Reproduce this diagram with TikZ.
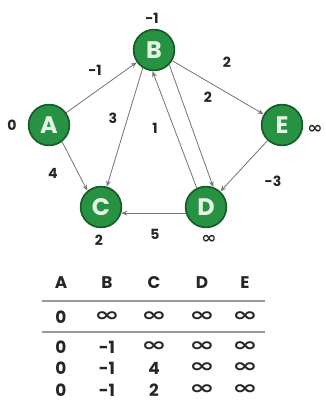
\documentclass[tikz,border=0pt]{standalone}
\usepackage{fontspec}
\setmainfont{Poppins}
\newfontfamily\symfont{DejaVu Sans}
\usepackage{graphicx}
\usepackage{tikz}
\usetikzlibrary{arrows.meta}
\definecolor{vfill}{RGB}{38,146,66}
\definecolor{vedge}{RGB}{22,92,40}
\definecolor{vtext}{RGB}{228,245,228}
\definecolor{ecol}{RGB}{120,120,120}
\newcommand{\infsym}[1][1.8]{\scalebox{#1}[1.15]{\symfont\bfseries ∞}}
\tikzset{
  vertex/.style={circle,fill=vfill,draw=vedge,line width=1.2pt,
    minimum size=29pt,inner sep=0pt,text=vtext,
    font=\fontsize{17}{17}\selectfont\bfseries},
  dist/.style={font=\fontsize{10}{10}\selectfont\bfseries,text=black!85},
  wlab/.style={font=\fontsize{10}{10}\selectfont\bfseries,text=black!85},
  arr/.style={-{Stealth[length=1.5mm,width=1.2mm]},draw=ecol,line width=0.6pt},
  cell/.style={font=\fontsize{12}{12}\selectfont\bfseries,text=black!85},
  rule/.style={draw=gray!80,line width=1pt}
}
\begin{document}
\begin{tikzpicture}[x=0.025cm,y=-0.025cm]
  \useasboundingbox (0,0) rectangle (325,401);
  % graph
  \node[vertex] (A) at (49,125) {A};
  \node[vertex] (B) at (154,50) {B};
  \node[vertex] (E) at (282,125) {E};
  \node[vertex] (C) at (101,207) {C};
  \node[vertex] (D) at (206,207) {D};
  \draw[arr] (A) -- (B);
  \draw[arr] (A.-52) -- (C.130);
  \draw[arr] (B.-122) -- (C.74);
  \draw[arr] (B) -- (E);
  \draw[arr] (B.-44) -- (D.70);
  \draw[arr] (D.116) -- (B.-94);
  \draw[arr] (E) -- (D);
  \draw[arr] (D.197) -- (C.-17);
  % distances
  \node[dist] (dA) at (12,125) {0};
  \node[dist] (dB) at (152,18) {-1};
  \node[dist,anchor=west,inner sep=0pt] (dE) at (307,129) {\infsym[1.3]};
  \node[dist] (dC) at (99,240) {2};
  \node[dist] (dD) at (209,239) {\infsym[1.3]};
  % weights
  \node[wlab] (wAB) at (95,70) {-1};
  \node[wlab] (wBC) at (113,118) {3};
  \node[wlab] (wDB) at (155,128) {1};
  \node[wlab] (wBD) at (208,97) {2};
  \node[wlab] (wBE) at (227,62) {2};
  \node[wlab] (wAC) at (53,173) {4};
  \node[wlab] (wED) at (273,181) {-3};
  \node[wlab] (wDC) at (155,234) {5};
  % table
  \foreach \c/\x in {A/61,B/107,C/154,D/202,E/245}
    \node[cell] (h\c) at (\x,283) {\c};
  \coordinate (r1l) at (42,301); \coordinate (r1r) at (265,301);
  \coordinate (r2l) at (42,332); \coordinate (r2r) at (265,332);
  \draw[rule] (r1l) -- (r1r);
  \draw[rule] (r2l) -- (r2r);
  \node[cell] (t0a) at (61,317) {0};
  \foreach \x in {107,154,202,245}
    \node[cell] at (\x,317) {\infsym};
  \foreach \y/\b/\cc in {347/-1/\infsym, 368/-1/4, 390/-1/2} {
    \node[cell] at (61,\y) {0};
    \node[cell] at (107,\y) {\b};
    \node[cell] at (154,\y) {\cc};
    \node[cell] at (202,\y) {\infsym};
    \node[cell] at (245,\y) {\infsym};
  }
\end{tikzpicture}
\end{document}
